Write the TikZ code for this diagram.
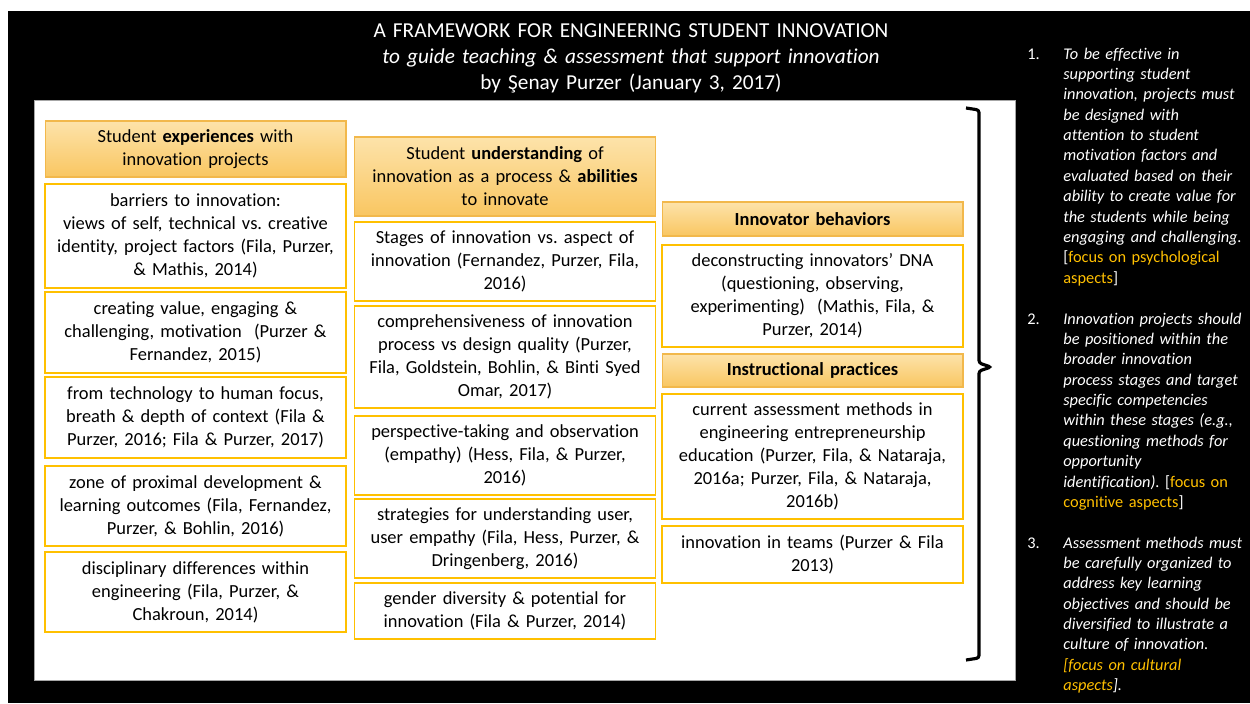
\documentclass[tikz,border=0pt]{standalone}
\usepackage{fontspec}
\setmainfont{Carlito}[Ligatures=NoCommon]
\usepackage{tikz}
\definecolor{gold}{HTML}{FFC000}
\definecolor{amber}{HTML}{F2B84B}
\definecolor{peach}{HTML}{FDE3AA}
\definecolor{apricot}{HTML}{F9C661}
\frenchspacing

\begin{document}
\begin{tikzpicture}[x=0.02cm, y=-0.02cm,
    box/.style={draw=gold, line width=1pt, fill=white, minimum width=6.02cm, text width=5.8cm, inner xsep=0.11cm, align=center, font=\fontsize{10.5}{13.1}\selectfont},
    hdr/.style={box, draw=amber, line width=0.6pt, top color=peach, bottom color=apricot},
    note/.style={anchor=base west, inner sep=0pt, text=white, text width=3.9cm, align=left, font=\fontsize{9.3}{11.6}\selectfont\itshape},
    num/.style={anchor=base west, inner sep=0pt, text=white, font=\fontsize{9.3}{11.6}\selectfont},
    rbrace/.style={line width=1.8pt, rounded corners=1.5pt}]

    \useasboundingbox (0,0) rectangle (1250,703);
    \fill[black] (8,11) rectangle (1250,703);
    \filldraw[fill=white, draw=gray!70] (34,100) rectangle (1015,680);

    \node[anchor=base, text=white, text width=14cm, align=center, font=\fontsize{12.1}{14.8}\selectfont] (title) at (631,37)
        {A FRAMEWORK FOR ENGINEERING STUDENT INNOVATION\\
         \textit{to guide teaching \& assessment that support innovation}\\
         by Şenay Purzer (January 3, 2017)};

    \node[hdr, minimum height=1.12cm] (h1) at (195.5,149) {Student \textbf{experiences} with\\innovation projects};
    \node[box, minimum height=2.08cm] (a1) at (195.5,236) {barriers to innovation:\\views of self, technical vs. creative\\identity, project factors (Fila, Purzer,\\\& Mathis, 2014)};
    \node[box, minimum height=1.62cm] (a2) at (195.5,332.5) {creating value, engaging \&\\challenging, motivation\ \ (Purzer \&\\Fernandez, 2015)};
    \node[box, minimum height=1.62cm] (a3) at (195.5,417.5) {from technology to human focus,\\breath \& depth of context (Fila \&\\Purzer, 2016; Fila \& Purzer, 2017)};
    \node[box, minimum height=1.6cm] (a4) at (195.5,506) {zone of proximal development \&\\learning outcomes (Fila, Fernandez,\\Purzer, \& Bohlin, 2016)};
    \node[box, minimum height=1.6cm] (a5) at (195.5,592) {disciplinary differences within\\engineering (Fila, Purzer, \&\\Chakroun, 2014)};

    \node[hdr, minimum height=1.58cm] (h2) at (505,176.5) {Student \textbf{understanding} of\\innovation as a process \& \textbf{abilities}\\to innovate};
    \node[box, minimum height=1.58cm] (b1) at (505,261.5) {Stages of innovation vs. aspect of\\innovation (Fernandez, Purzer, Fila,\\2016)};
    \node[box, minimum height=2.04cm] (b2) at (505,357) {comprehensiveness of innovation\\process vs design quality (Purzer,\\Fila, Goldstein, Bohlin, \& Binti Syed\\Omar, 2017)};
    \node[box, minimum height=1.58cm] (b3) at (505,455.5) {perspective-taking and observation\\(empathy) (Hess, Fila, \& Purzer,\\2016)};
    \node[box, minimum height=1.58cm] (b4) at (505,538.5) {strategies for understanding user,\\user empathy (Fila, Hess, Purzer, \&\\Dringenberg, 2016)};
    \node[box, minimum height=1.12cm] (b5) at (505,611) {gender diversity \& potential for\\innovation (Fila \& Purzer, 2014)};

    \node[hdr, minimum height=0.68cm] (h3) at (812.5,219) {\textbf{Innovator behaviors}};
    \node[box, minimum height=2.04cm] (c1) at (812.5,296) {deconstructing innovators’ DNA\\(questioning, observing,\\experimenting)\ \ (Mathis, Fila, \&\\Purzer, 2014)};
    \node[hdr, minimum height=0.66cm] (h4) at (812.5,370.5) {\textbf{Instructional practices}};
    \node[box, minimum height=2.5cm] (c2) at (812.5,456.5) {current assessment methods in\\engineering entrepreneurship\\education (Purzer, Fila, \& Nataraja,\\2016a; Purzer, Fila, \& Nataraja,\\2016b)};
    \node[box, minimum height=1.14cm] (c3) at (812.5,554.5) {innovation in teams (Purzer \& Fila\\2013)};

    \draw[rbrace] (966,108) -- (979,110) -- (979,363) -- (991,367) -- (979,371) -- (979,658) -- (966,660);

    \node[num] (n1) at (1027,59) {1.};
    \node[note] (p1) at (1063,59) {To be effective in\\supporting student\\innovation, projects must\\be designed with\\attention to student\\motivation factors and\\evaluated based on their\\ability to create value for\\the students while being\\engaging and challenging.\\\upshape[\textcolor{gold}{focus on psychological}\\\upshape\textcolor{gold}{aspects}]};
    \node[num] (n2) at (1027,324) {2.};
    \node[note] (p2) at (1063,324) {Innovation projects should\\be positioned within the\\broader innovation\\process stages and target\\specific competencies\\within these stages (e.g.,\\questioning methods for\\opportunity\\identification). \upshape[\textcolor{gold}{focus on}\\\upshape\textcolor{gold}{cognitive aspects}]};
    \node[num] (n3) at (1027,548) {3.};
    \node[note] (p3) at (1063,548) {Assessment methods must\\be carefully organized to\\address key learning\\objectives and should be\\diversified to illustrate a\\culture of innovation.\\\textcolor{gold}{[focus on cultural}\\\textcolor{gold}{aspects}].};

\end{tikzpicture}
\end{document}
